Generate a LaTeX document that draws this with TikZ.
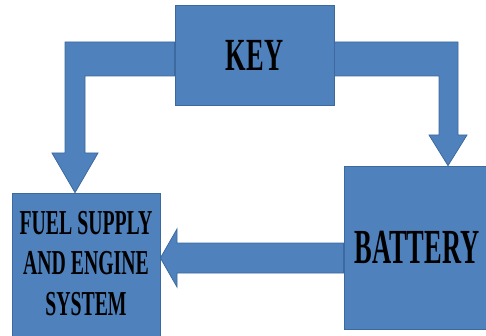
\documentclass[tikz,border=0pt]{standalone}
\usepackage{fontspec}
\setmainfont{Liberation Serif}
\usetikzlibrary{calc}
\pgfdeclarelayer{background}
\pgfsetlayers{background,main}
\definecolor{boxfill}{HTML}{4F81BD}
\definecolor{boxline}{HTML}{3C6A9E}
\begin{document}
\begin{tikzpicture}[x=1pt,y=-1pt,
  box/.style={draw=boxline, fill=boxfill, line width=0.8pt, inner sep=0pt, align=center},
  blockarrow/.style={draw=boxline, fill=boxfill, line width=0.8pt, line join=miter}]
\useasboundingbox (0,0) rectangle (486,336);
\clip (0,0) rectangle (486,336);
\node[box, minimum width=159pt, minimum height=100pt] (key) at (254.5,55)
  {\fontsize{46}{50}\selectfont\bfseries\scalebox{0.575}[1]{KEY}};
\node[box, minimum width=148pt, minimum height=147pt] (fuel) at (86,266.5)
  {\fontsize{35}{40.5}\selectfont\bfseries\scalebox{0.565}[1]{\begin{tabular}{@{}c@{}}FUEL SUPPLY\\ AND ENGINE\\ SYSTEM\end{tabular}}};
\node[box, minimum width=146pt, minimum height=163pt] (battery) at (417,247.5)
  {\fontsize{49}{52}\selectfont\bfseries\scalebox{0.54}[1]{BATTERY}};
\begin{pgfonlayer}{background}
\draw[blockarrow] (key.west |- 0,42) -- (65,42) -- (65,153) -- (52,153)
  -- (fuel.north -| 75,0) -- (98,153) -- (85,153) -- (85,76) -- (key.west |- 0,76) -- cycle;
\draw[blockarrow] (key.east |- 0,42) -- (458,42) -- (458,135) -- (467,135)
  -- (battery.north -| 448,0) -- (429,135) -- (439,135) -- (439,76) -- (key.east |- 0,76) -- cycle;
\draw[blockarrow] (battery.west |- 0,243) -- (177,243) -- (177,229)
  -- (fuel.east |- 0,258) -- (177,287) -- (177,273) -- (battery.west |- 0,273) -- cycle;
\end{pgfonlayer}
\end{tikzpicture}
\end{document}
